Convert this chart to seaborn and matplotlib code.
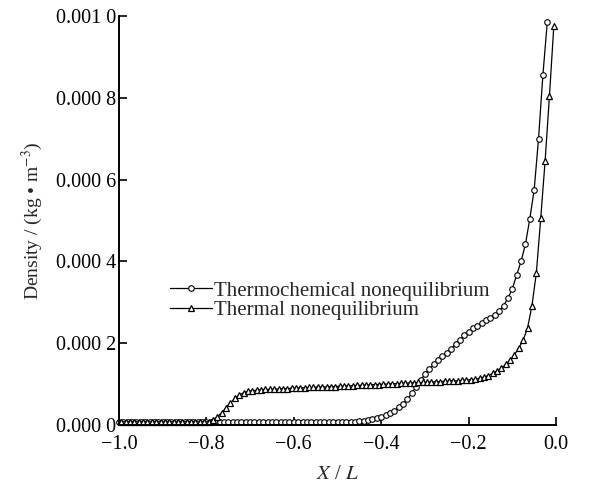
import matplotlib
matplotlib.use('Agg')
import matplotlib.pyplot as plt
import seaborn as sns

# X/L sample positions and densities (kg/m^3)
x_chem = [
    -1.00, -0.99, -0.98, -0.97, -0.96, -0.95, -0.94, -0.93, -0.92, -0.91,
    -0.90, -0.89, -0.88, -0.87, -0.86, -0.85, -0.84, -0.83, -0.82, -0.81,
    -0.80, -0.79, -0.78, -0.77, -0.76, -0.75, -0.74, -0.73, -0.72, -0.71,
    -0.70, -0.69, -0.68, -0.67, -0.66, -0.65, -0.64, -0.63, -0.62, -0.61,
    -0.60, -0.59, -0.58, -0.57, -0.56, -0.55, -0.54, -0.53, -0.52, -0.51,
    -0.50, -0.49, -0.48, -0.47, -0.46, -0.45, -0.44, -0.43, -0.42, -0.41,
    -0.40, -0.39, -0.38, -0.37, -0.36, -0.35, -0.34, -0.33, -0.32, -0.31,
    -0.30, -0.29, -0.28, -0.27, -0.26, -0.25, -0.24, -0.23, -0.22, -0.21,
    -0.20, -0.19, -0.18, -0.17, -0.16, -0.15, -0.14, -0.13, -0.12, -0.11,
    -0.10, -0.09, -0.08, -0.07, -0.06, -0.05, -0.04, -0.03, -0.02,
]
rho_chem = [
    8e-6, 8e-6, 8e-6, 8e-6, 8e-6, 8e-6, 8e-6, 8e-6, 8e-6, 8e-6,
    8e-6, 8e-6, 8e-6, 8e-6, 8e-6, 8e-6, 8e-6, 8e-6, 8e-6, 8e-6,
    8e-6, 8e-6, 8e-6, 8e-6, 8e-6, 8e-6, 8e-6, 8e-6, 8e-6, 8e-6,
    8e-6, 8e-6, 8e-6, 8e-6, 8e-6, 8e-6, 8e-6, 8e-6, 8e-6, 8e-6,
    8e-6, 8e-6, 8e-6, 8e-6, 8e-6, 8e-6, 8e-6, 8e-6, 8e-6, 8e-6,
    8e-6, 8e-6, 8e-6, 8e-6, 8e-6, 0.000009, 0.000011, 0.000013, 0.000015, 0.000017,
    0.000020, 0.000024, 0.000029, 0.000035, 0.000043, 0.000052, 0.000063, 0.000078, 0.000094, 0.000110,
    0.000124, 0.000137, 0.000148, 0.000158, 0.000168, 0.000177, 0.000187, 0.000197, 0.000208, 0.000219,
    0.000228, 0.000236, 0.000243, 0.000250, 0.000256, 0.000262, 0.000269, 0.000279, 0.000292, 0.000310,
    0.000333, 0.000367, 0.000400, 0.000442, 0.000504, 0.000575, 0.000700, 0.000856, 0.000985,
]

x_therm = [
    -0.995, -0.985, -0.975, -0.965, -0.955, -0.945, -0.935, -0.925, -0.915, -0.905,
    -0.895, -0.885, -0.875, -0.865, -0.855, -0.845, -0.835, -0.825, -0.815, -0.805,
    -0.795, -0.785, -0.775, -0.765, -0.755, -0.745, -0.735, -0.725, -0.715, -0.705,
    -0.695, -0.685, -0.675, -0.665, -0.655, -0.645, -0.635, -0.625, -0.615, -0.605,
    -0.595, -0.585, -0.575, -0.565, -0.555, -0.545, -0.535, -0.525, -0.515, -0.505,
    -0.495, -0.485, -0.475, -0.465, -0.455, -0.445, -0.435, -0.425, -0.415, -0.405,
    -0.395, -0.385, -0.375, -0.365, -0.355, -0.345, -0.335, -0.325, -0.315, -0.305,
    -0.295, -0.285, -0.275, -0.265, -0.255, -0.245, -0.235, -0.225, -0.215, -0.205,
    -0.195, -0.185, -0.175, -0.165, -0.155, -0.145, -0.135, -0.125, -0.115, -0.105,
    -0.095, -0.085, -0.075, -0.065, -0.055, -0.045, -0.035, -0.025, -0.015, -0.005,
]
rho_therm = [
    8e-6, 8e-6, 8e-6, 8e-6, 8e-6, 8e-6, 8e-6, 8e-6, 8e-6, 8e-6,
    8e-6, 8e-6, 8e-6, 8e-6, 8e-6, 8e-6, 8e-6, 8e-6, 8e-6, 8e-6,
    8e-6, 0.000012, 0.000020, 0.000030, 0.000042, 0.000054, 0.000065, 0.000073, 0.000079, 0.000082,
    0.000084, 0.000085, 0.000086, 0.000087, 0.000087, 0.000088, 0.000088, 0.000089, 0.000089, 0.000090,
    0.000090, 0.000091, 0.000091, 0.000092, 0.000092, 0.000093, 0.000093, 0.000093, 0.000094, 0.000094,
    0.000095, 0.000095, 0.000096, 0.000096, 0.000097, 0.000097, 0.000098, 0.000098, 0.000099, 0.000099,
    0.000100, 0.000100, 0.000101, 0.000101, 0.000102, 0.000102, 0.000103, 0.000103, 0.000104, 0.000104,
    0.000105, 0.000105, 0.000106, 0.000106, 0.000107, 0.000107, 0.000108, 0.000108, 0.000109, 0.000110,
    0.000111, 0.000112, 0.000114, 0.000117, 0.000121, 0.000126, 0.000132, 0.000139, 0.000148, 0.000159,
    0.000172, 0.000188, 0.000208, 0.000238, 0.000292, 0.000372, 0.000505, 0.000645, 0.000805, 0.000976,
]

y_ticks = [0.0, 0.0002, 0.0004, 0.0006, 0.0008, 0.0010]
y_ticklabels = ['0.000 0', '0.000 2', '0.000 4', '0.000 6', '0.000 8', '0.001 0']
x_ticks = [-1.0, -0.8, -0.6, -0.4, -0.2, 0.0]

sns.set_theme(style='ticks')
plt.rcParams['font.family'] = ['Liberation Serif', 'DejaVu Serif']
plt.rcParams['mathtext.fontset'] = 'stix'

fig = plt.figure(figsize=(5.9, 4.91), dpi=100)
ax = fig.add_axes([0.2017, 0.1344, 0.7407, 0.8330])

sns.lineplot(x=x_chem, y=rho_chem, ax=ax, color='black', lw=0.9,
             marker='o', markersize=4, markerfacecolor='white',
             markeredgecolor='black', markeredgewidth=0.8,
             label='Thermochemical nonequilibrium', clip_on=False)
sns.lineplot(x=x_therm, y=rho_therm, ax=ax, color='black', lw=0.9,
             marker='^', markersize=4, markerfacecolor='white',
             markeredgecolor='black', markeredgewidth=0.9,
             label='Thermal nonequilibrium', clip_on=False)

ax.set_xlim(-1.0, 0.0)
ax.set_ylim(0, 0.001)
ax.set_xticks(x_ticks)
ax.set_yticks(y_ticks, y_ticklabels)
ax.tick_params(direction='in', length=6, width=1.2, labelsize=14.5,
               colors='black')
ax.tick_params(axis='x', pad=7)
ax.tick_params(axis='y', pad=2)
for s in ['top', 'right']:
    ax.spines[s].set_visible(False)
for s in ['left', 'bottom']:
    ax.spines[s].set_linewidth(1.4)
    ax.spines[s].set_color('black')

ax.set_xlabel('$X$ / $L$', fontsize=15, labelpad=8)
ax.set_ylabel('Density / (kg • m$^{-3}$)', fontsize=14, labelpad=8)

ax.legend(loc='upper left', bbox_to_anchor=(170 / 590, 1 - 281 / 491),
          bbox_transform=fig.transFigure, frameon=False, fontsize=15,
          handlelength=2.0, handletextpad=0.1, labelspacing=0.0,
          borderpad=0, borderaxespad=0)

fig.savefig('out.png', dpi=100)
